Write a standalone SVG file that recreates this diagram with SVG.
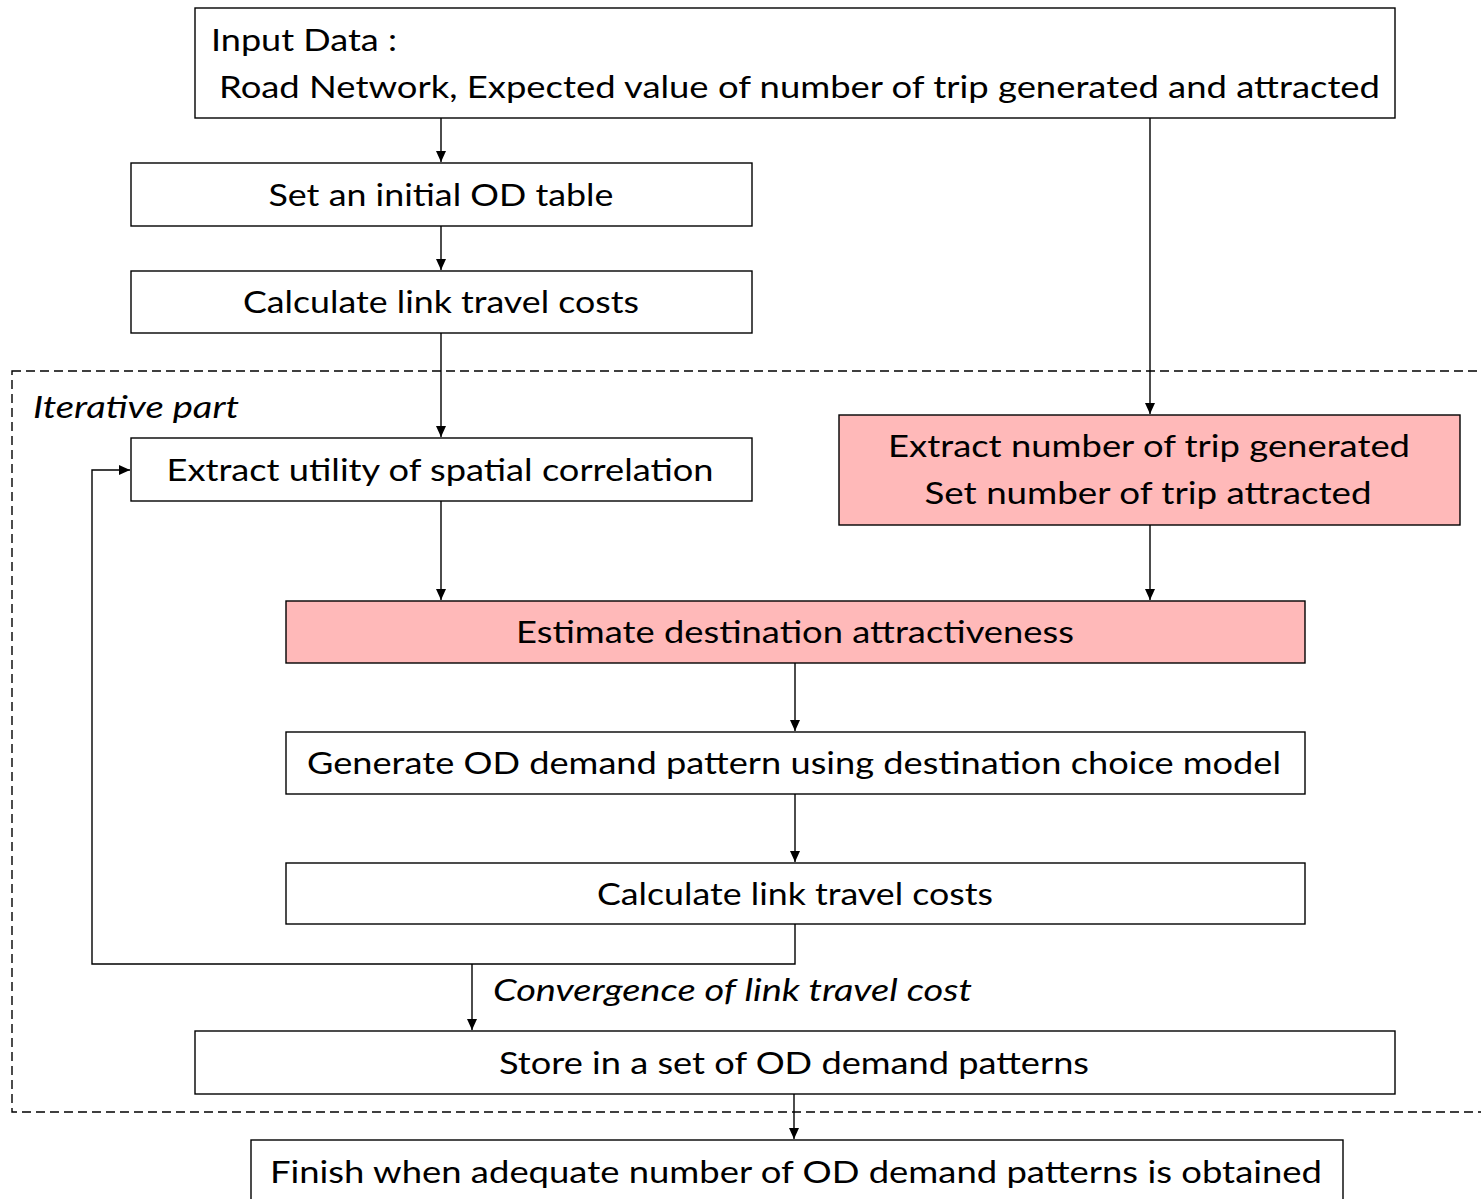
<svg xmlns="http://www.w3.org/2000/svg" width="1481" height="1199" viewBox="0 0 1481 1199">
  <defs>
    <marker id="arrow" markerWidth="12" markerHeight="12" refX="11" refY="5" orient="auto" markerUnits="userSpaceOnUse">
      <path d="M0,0 L11,5 L0,10 Z" fill="#000"/>
    </marker>
    <style>
      .box { fill: #fff; stroke: #000; stroke-width: 1.4; }
      .hl { fill: #ffb9b9; stroke: #000; stroke-width: 1.4; }
      .lbl { font-family: Lato, "Liberation Sans", sans-serif; font-size: 31px; fill: #000; }
      .mid { text-anchor: middle; }
      .it { font-style: italic; }
      .conn { fill: none; stroke: #000; stroke-width: 1.4; }
      .frame { fill: none; stroke: #000; stroke-width: 1.4; stroke-dasharray: 9 5; }
    </style>
  </defs>
  <rect width="1481" height="1199" fill="#fff"/>

  <!-- iterative region -->
  <g id="iterative-part">
    <rect class="frame" x="12" y="371" width="1480" height="741"/>
    <text class="lbl it" x="33" y="418" textLength="206" lengthAdjust="spacingAndGlyphs">Iterative part</text>
  </g>

  <g id="connectors">
    <line class="conn" x1="441" y1="118" x2="441" y2="162" marker-end="url(#arrow)"/>
    <line class="conn" x1="441" y1="226" x2="441" y2="270" marker-end="url(#arrow)"/>
    <line class="conn" x1="441" y1="333" x2="441" y2="437" marker-end="url(#arrow)"/>
    <line class="conn" x1="1150" y1="118" x2="1150" y2="414" marker-end="url(#arrow)"/>
    <line class="conn" x1="441" y1="501" x2="441" y2="600" marker-end="url(#arrow)"/>
    <line class="conn" x1="1150" y1="525" x2="1150" y2="600" marker-end="url(#arrow)"/>
    <line class="conn" x1="795" y1="663" x2="795" y2="731" marker-end="url(#arrow)"/>
    <line class="conn" x1="795" y1="794" x2="795" y2="862" marker-end="url(#arrow)"/>
    <polyline class="conn" points="795,924 795,964 92,964 92,470 130,470" marker-end="url(#arrow)"/>
    <line class="conn" x1="472" y1="964" x2="472" y2="1030" marker-end="url(#arrow)"/>
    <line class="conn" x1="794" y1="1094" x2="794" y2="1139" marker-end="url(#arrow)"/>
    <text class="lbl it" x="493" y="1001" textLength="479" lengthAdjust="spacingAndGlyphs">Convergence of link travel cost</text>
  </g>

  <g id="input-data">
    <rect class="box" x="195" y="8" width="1200" height="110"/>
    <text class="lbl" x="211" y="51" textLength="186" lengthAdjust="spacingAndGlyphs">Input Data :</text>
    <text class="lbl" x="219" y="98" textLength="1161" lengthAdjust="spacingAndGlyphs">Road Network, Expected value of number of trip generated and attracted</text>
  </g>

  <g id="initial-od">
    <rect class="box" x="131" y="163" width="621" height="63"/>
    <text class="lbl mid" x="441" y="206" textLength="345" lengthAdjust="spacingAndGlyphs">Set an initial OD table</text>
  </g>

  <g id="link-costs-initial">
    <rect class="box" x="131" y="271" width="621" height="62"/>
    <text class="lbl mid" x="441" y="313" textLength="396" lengthAdjust="spacingAndGlyphs">Calculate link travel costs</text>
  </g>

  <g id="spatial-utility">
    <rect class="box" x="131" y="438" width="621" height="63"/>
    <text class="lbl mid" x="440" y="481" textLength="547" lengthAdjust="spacingAndGlyphs">Extract utility of spatial correlation</text>
  </g>

  <g id="trip-numbers">
    <rect class="hl" x="839" y="415" width="621" height="110"/>
    <text class="lbl mid" x="1149" y="457" textLength="522" lengthAdjust="spacingAndGlyphs">Extract number of trip generated</text>
    <text class="lbl mid" x="1148" y="504" textLength="447" lengthAdjust="spacingAndGlyphs">Set number of trip attracted</text>
  </g>

  <g id="attractiveness">
    <rect class="hl" x="286" y="601" width="1019" height="62"/>
    <text class="lbl mid" x="795" y="643" textLength="558" lengthAdjust="spacingAndGlyphs">Estimate destination attractiveness</text>
  </g>

  <g id="od-pattern">
    <rect class="box" x="286" y="732" width="1019" height="62"/>
    <text class="lbl mid" x="794" y="774" textLength="974" lengthAdjust="spacingAndGlyphs">Generate OD demand pattern using destination choice model</text>
  </g>

  <g id="link-costs">
    <rect class="box" x="286" y="863" width="1019" height="61"/>
    <text class="lbl mid" x="795" y="905" textLength="396" lengthAdjust="spacingAndGlyphs">Calculate link travel costs</text>
  </g>

  <g id="store">
    <rect class="box" x="195" y="1031" width="1200" height="63"/>
    <text class="lbl mid" x="794" y="1074" textLength="590" lengthAdjust="spacingAndGlyphs">Store in a set of OD demand patterns</text>
  </g>

  <g id="finish">
    <rect class="box" x="251" y="1140" width="1092" height="70"/>
    <text class="lbl mid" x="796" y="1183" textLength="1052" lengthAdjust="spacingAndGlyphs">Finish when adequate number of OD demand patterns is obtained</text>
  </g>
</svg>
